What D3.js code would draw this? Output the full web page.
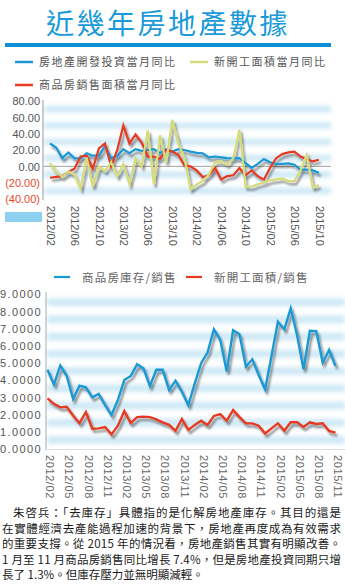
<!DOCTYPE html>
<html><head><meta charset="utf-8">
<script src="https://cdn.jsdelivr.net/npm/d3@7"></script>
<style>
html,body{margin:0;padding:0;background:#fff;}
svg{display:block;}
</style></head>
<body>
<svg id="c" width="345" height="584"></svg>
<script>
// ---------- DATA ----------
const title = "近幾年房地產數據";
const months1 = ["2012/02","2012/03","2012/04","2012/05","2012/06","2012/07","2012/08","2012/09","2012/10","2012/11","2012/12",
"2013/01","2013/02","2013/03","2013/04","2013/05","2013/06","2013/07","2013/08","2013/09","2013/10","2013/11","2013/12",
"2014/01","2014/02","2014/03","2014/04","2014/05","2014/06","2014/07","2014/08","2014/09","2014/10","2014/11","2014/12",
"2015/01","2015/02","2015/03","2015/04","2015/05","2015/06","2015/07","2015/08","2015/09","2015/10"];
const investYoY = [28,23,10,17,10,9.5,16,13,13,25,10,13,21,16,21,19,20,21,16,21,18,21,20,18,16.5,16,11,12,11,10,9.5,10,4,-2,3,9,5,3,3,3.5,2,-4,-4,-5,-8];
const newStartYoY = [4,-6,-13,-6,-10,-27,11,-25,0,-6,5,-12,3,-22,10,0,44,-22,38,5,57,28,10,-28,-22,-18,-10,5,6,2,10,45,-25,-25,-22,-20,-17,-16,-15,-18,-18,-5,14,-26,-23];
const salesAreaYoY = [-14,-13,-12,-7,-3,12,13,-3,22,28,0,20,50,28,39,29,12,12,9,20,18,14,1,0,-5,-13,-11,-2,-16,-12,-11,-2,-11,-5,-12,-16,-2,10,15,17,18,12,9,6,8];
const topTicks = [80,60,40,20,0,-20,-40];
const topXLabels = ["2012/02","2012/06","2012/10","2013/02","2013/06","2013/10","2014/02","2014/06","2014/10","2015/02","2015/06","2015/10"];
const topLegend = ["房地產開發投資當月同比","新開工面積當月同比","商品房銷售面積當月同比"];

const months2 = months1.concat(["2015/11"]);
const inventoryRatio = [4.6,3.75,4.85,4.25,2.9,3.68,3.58,3.0,3.2,2.56,1.97,2.85,4.0,4.24,4.92,4.68,3.65,4.6,4.6,3.43,3.97,3.33,2.55,3.8,4.98,5.6,6.95,6.33,4.5,6.9,6.66,4.78,5.21,4.3,3.47,5.4,7.39,6.95,8.17,6.6,4.63,6.87,6.85,5.01,5.75,4.82];
const newStartRatio = [2.94,2.62,2.42,2.45,1.95,1.5,2.15,1.18,1.2,1.28,0.85,1.35,2.2,1.5,1.85,1.88,1.85,1.72,1.55,1.4,1.05,1.74,1.1,1.4,1.64,1.39,1.92,2.03,1.64,2.26,1.85,1.49,1.49,1.35,0.9,1.2,1.49,1.06,1.55,1.55,1.28,1.55,1.45,1.49,1.05,0.95];
const bottomTicks = [0,1,2,3,4,5,6,7,8,9];
const bottomXLabels = ["2012/02","2012/05","2012/08","2012/11","2013/02","2013/05","2013/08","2013/11","2014/02","2014/05","2014/08","2014/11","2015/02","2015/05","2015/08","2015/11"];
const bottomLegend = ["商品房庫存/銷售","新開工面積/銷售"];

const paragraph = [
 "朱啓兵：「去庫存」具體指的是化解房地產庫存。其目的還是",
 "在實體經濟去產能過程加速的背景下，房地產再度成為有效需求",
 "的重要支撐。從 2015 年的情況看，房地產銷售其實有明顯改善。",
 "1 月至 11 月商品房銷售同比增長 7.4%，但是房地產投資同期只增",
 "長了 1.3%。但庫存壓力並無明顯減輕。"
];

// ---------- STYLE ----------
const BLUE = "#1a98d5", RED = "#e63a22", YEL = "#d6dc78";
const CJK = "'Noto Sans CJK TC','Noto Sans CJK SC',sans-serif";
const LAT = "'Liberation Sans',Arial,sans-serif";

const svg = d3.select("#c");
const defs = svg.append("defs");
const sh = defs.append("filter").attr("id","shadow").attr("x","-10%").attr("y","-10%").attr("width","130%").attr("height","140%");
sh.append("feGaussianBlur").attr("in","SourceAlpha").attr("stdDeviation",1.3).attr("result","b");
sh.append("feOffset").attr("in","b").attr("dx",1.5).attr("dy",2.5).attr("result","o");
sh.append("feComponentTransfer").attr("in","o").attr("result","o2").append("feFuncA").attr("type","linear").attr("slope",0.45);
const mg = sh.append("feMerge"); mg.append("feMergeNode").attr("in","o2"); mg.append("feMergeNode").attr("in","SourceGraphic");
defs.append("filter").attr("id","blur").attr("x","-5%").attr("y","-50%").attr("width","110%").attr("height","200%")
  .append("feGaussianBlur").attr("stdDeviation",2.2);

// title
svg.append("text").attr("x",168).attr("y",34).attr("text-anchor","middle")
  .attr("font-family",CJK).attr("font-size",28).attr("fill","#1a9ad8").attr("letter-spacing",2.5).text(title);
svg.append("rect").attr("x",5).attr("y",43).attr("width",326).attr("height",4).attr("fill","#0f8fd3");

// top legend
const legTop = [
  {x:15, y:62, c:BLUE, t:topLegend[0]},
  {x:190,y:62, c:YEL,  t:topLegend[1]},
  {x:15, y:85, c:RED,  t:topLegend[2]}];
legTop.forEach(d=>{
  svg.append("line").attr("x1",d.x).attr("x2",d.x+18).attr("y1",d.y).attr("y2",d.y).attr("stroke",d.c).attr("stroke-width",2.5);
  svg.append("text").attr("x",d.x+24).attr("y",d.y+4).attr("font-family",CJK).attr("font-size",11)
    .attr("letter-spacing",1.5).attr("fill","#555").text(d.t);
});

// ---------- TOP CHART ----------
const x1 = d3.scalePoint().domain(months1).range([50,318.9]);
const y1 = d3.scaleLinear().domain([-40,80]).range([199,101]);
const g1 = svg.append("g");
const bands1 = g1.append("g").attr("filter","url(#blur)");
for (let v=-40; v<80; v+=20){
  bands1.append("rect").attr("x",44).attr("width",287)
    .attr("y",y1(v+14)).attr("height",y1(v+6)-y1(v+14)).attr("fill","#cfe9f7");
}
const ax1 = d3.axisLeft(y1).tickValues(topTicks).tickSize(0).tickPadding(0)
  .tickFormat(v=> v<0 ? "("+d3.format(".2f")(-v)+")" : d3.format(".2f")(v));
g1.append("g").attr("transform","translate(40,0)").call(ax1)
  .call(g=>g.select(".domain").remove())
  .selectAll("text").attr("font-family",LAT).attr("font-size",11).attr("dy","0.35em")
  .attr("fill",d=> d<0 ? "#e8482e" : "#555");
g1.append("line").attr("x1",43).attr("x2",43).attr("y1",100).attr("y2",200).attr("stroke","#999").attr("stroke-width",1);
g1.append("line").attr("x1",43).attr("x2",331).attr("y1",y1(0)).attr("y2",y1(0)).attr("stroke","#888").attr("stroke-width",0.8);
const xa1 = d3.axisBottom(x1).tickValues(topXLabels).tickSize(0).tickPadding(0);
g1.append("g").attr("transform","translate(0,206)").call(xa1)
  .call(g=>g.select(".domain").remove())
  .selectAll("text").attr("font-family",LAT).attr("font-size",11).attr("fill","#555")
  .attr("text-anchor","start").attr("transform","rotate(90)").attr("x",0).attr("y",0).attr("dy","0.35em");
svg.append("rect").attr("x",5).attr("y",212).attr("width",37).attr("height",10).attr("fill","#8ed0f0");

const line1 = arr => d3.line().x((d,i)=>x1(months1[i])).y(d=>y1(d))(arr);
const lg1 = g1.append("g").attr("filter","url(#shadow)").attr("fill","none").attr("stroke-width",2.2).attr("stroke-linejoin","miter");
lg1.append("path").attr("d",line1(investYoY)).attr("stroke",BLUE);
lg1.append("path").attr("d",line1(salesAreaYoY)).attr("stroke",RED);
lg1.append("path").attr("d",line1(newStartYoY)).attr("stroke",YEL);

// ---------- BOTTOM CHART ----------
const legBot = [{x:54,c:BLUE,t:bottomLegend[0]},{x:186,c:RED,t:bottomLegend[1]}];
legBot.forEach(d=>{
  svg.append("line").attr("x1",d.x).attr("x2",d.x+16).attr("y1",277).attr("y2",277).attr("stroke",d.c).attr("stroke-width",2.2);
  svg.append("text").attr("x",d.x+28).attr("y",282).attr("font-family",CJK).attr("font-size",11.5)
    .attr("letter-spacing",1.2).attr("fill","#666").text(d.t);
});
const x2 = d3.scalePoint().domain(months2).range([47.5,335.5]);
const y2 = d3.scaleLinear().domain([0,9]).range([449,294]);
const g2 = svg.append("g");
const bands2 = g2.append("g").attr("filter","url(#blur)");
for (let v=0; v<9; v+=1){
  bands2.append("rect").attr("x",47).attr("width",298)
    .attr("y",y2(v+0.75)).attr("height",y2(v+0.3)-y2(v+0.75)).attr("fill","#cfe9f7");
}
const ax2 = d3.axisLeft(y2).tickValues(bottomTicks).tickSize(0).tickPadding(0).tickFormat(d3.format(".4f"));
g2.append("g").attr("transform","translate(42,0)").call(ax2)
  .call(g=>g.select(".domain").remove())
  .selectAll("text").attr("font-family",LAT).attr("font-size",11).attr("letter-spacing",1.4)
  .attr("dy","0.35em").attr("fill","#555");
g2.append("line").attr("x1",46).attr("x2",46).attr("y1",292).attr("y2",450).attr("stroke","#aaa").attr("stroke-width",1);
g2.append("line").attr("x1",46).attr("x2",345).attr("y1",449.5).attr("y2",449.5).attr("stroke","#ddd").attr("stroke-width",1);
const xa2 = d3.axisBottom(x2).tickValues(bottomXLabels).tickSize(0).tickPadding(0);
g2.append("g").attr("transform","translate(2,455)").call(xa2)
  .call(g=>g.select(".domain").remove())
  .selectAll("text").attr("font-family",LAT).attr("font-size",11).attr("letter-spacing",0.6).attr("fill","#666")
  .attr("text-anchor","start").attr("transform","rotate(90)").attr("x",0).attr("y",0).attr("dy","0.35em");

const line2 = arr => d3.line().x((d,i)=>x2(months2[i])).y(d=>y2(d))(arr);
const lg2 = g2.append("g").attr("filter","url(#shadow)").attr("fill","none").attr("stroke-width",2.4);
lg2.append("path").attr("d",line2(inventoryRatio)).attr("stroke",BLUE);
lg2.append("path").attr("d",line2(newStartRatio)).attr("stroke",RED);

// ---------- PARAGRAPH ----------
paragraph.forEach((t,i)=>{
  const tx = svg.append("text").attr("x", i===0 ? 13 : 2).attr("y", 517 + i*15.5)
    .attr("font-family",CJK).attr("font-size",11.5).attr("fill","#1a1a1a").text(t);
  if (i < paragraph.length-1) tx.attr("textLength", i===0 ? 328 : 339).attr("lengthAdjust","spacing");
});
</script>
</body></html>
